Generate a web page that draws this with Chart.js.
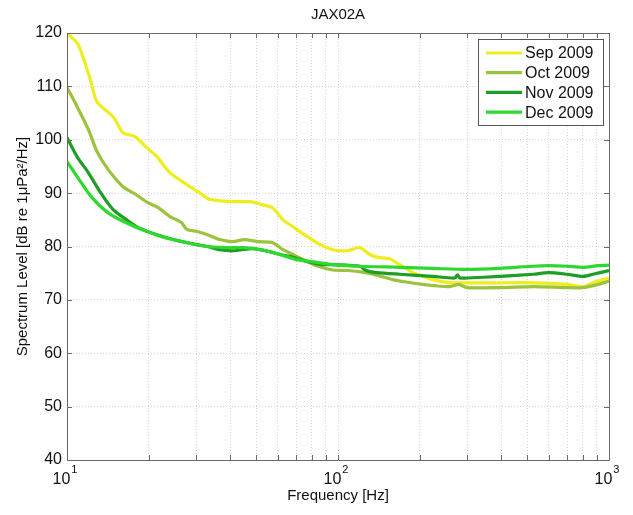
<!DOCTYPE html>
<html>
<head>
<meta charset="utf-8">
<script src="https://cdn.jsdelivr.net/npm/chart.js@4.4.1/dist/chart.umd.min.js"></script>
<style>
  html, body { margin: 0; padding: 0; background: #ffffff; }
  #wrap { width: 633px; height: 515px; position: relative; }
</style>
</head>
<body>
<div id="wrap"><canvas id="c" width="633" height="515"></canvas></div>
<script>
// ---- Data ----
const chartTitle = 'JAX02A';
const seriesLabels = ['Sep 2009', 'Oct 2009', 'Nov 2009', 'Dec 2009'];

const sepFreq  = [10, 11, 12.2, 12.9, 14.8, 16.1, 17.8, 19.7, 21.5, 24, 27.7, 31, 33.7, 41, 47.3, 52.8, 57.5, 62.7, 68.2, 76.8, 85.8, 95.8, 108, 120.5, 131, 139, 155, 169, 189, 224, 259, 299, 396, 525, 700, 802, 873, 951, 1000];
const sepLevel = [120, 117.8, 111.2, 107.1, 104.3, 101.3, 100.6, 98.5, 96.8, 93.8, 91.6, 90, 88.8, 88.4, 88.4, 87.8, 87.2, 85, 83.7, 81.9, 80.4, 79.4, 79.2, 79.8, 78.5, 78, 77.7, 76.6, 75.1, 73.8, 73.2, 73.2, 73.2, 73.2, 72.9, 72.5, 73.2, 73.8, 74.1];

const octFreq  = [10, 10.9, 12, 12.9, 14.2, 16.1, 18, 19.9, 21.7, 24, 26.4, 27.7, 30.2, 33, 36.6, 41, 45, 51, 57.5, 62.7, 68.2, 76.8, 84.4, 95.8, 109, 123, 140, 159, 181, 205, 232, 259, 279, 299, 396, 525, 700, 802, 911, 1000];
const octLevel = [109.8, 106.2, 101.9, 97.8, 94.4, 91.2, 89.7, 88.2, 87.3, 85.6, 84.5, 83.2, 82.8, 82.2, 81.3, 80.9, 81.3, 80.9, 80.7, 79.4, 78.5, 77.2, 76.3, 75.6, 75.5, 75.2, 74.6, 73.8, 73.3, 72.9, 72.6, 72.5, 72.9, 72.3, 72.3, 72.5, 72.3, 72.3, 72.9, 73.5];

const novFreq  = [10, 10.9, 12, 13.3, 14.8, 16.6, 18.4, 21.5, 24.7, 29.2, 33, 36.6, 41, 48.5, 56.2, 61.1, 68.2, 76.8, 86.8, 95.8, 120.5, 126, 131, 139, 169, 224, 270, 276, 282, 299, 396, 525, 600, 700, 802, 873, 1000];
const novLevel = [100.4, 96.8, 93.8, 90.1, 86.9, 85, 83.5, 82.2, 81.3, 80.5, 80, 79.4, 79.2, 79.6, 79, 78.5, 78, 77.2, 76.6, 76.6, 76.3, 75.6, 75.3, 75.1, 74.8, 74.4, 74.1, 74.7, 74.1, 74.1, 74.4, 74.8, 75.1, 74.8, 74.4, 74.8, 75.5];

const decFreq  = [10, 11.1, 12.3, 14.2, 16.6, 19.7, 23.2, 27.7, 32.5, 38.3, 44.6, 52.2, 61.1, 69.8, 84.4, 95.8, 120.5, 169, 224, 299, 396, 525, 600, 700, 802, 911, 1000];
const decLevel = [95.9, 92.5, 89.3, 86.3, 84.4, 82.8, 81.6, 80.7, 80, 79.8, 79.8, 79.4, 78.5, 77.6, 77, 76.6, 76.3, 76.1, 75.9, 75.7, 75.9, 76.3, 76.4, 76.3, 76.1, 76.4, 76.5];

const seriesColors = ['#eeee1e', '#9cc33e', '#1e9e24', '#2ed82e'];

const xTickValues = [10, 20, 30, 40, 50, 60, 70, 80, 90, 100, 200, 300, 400, 500, 600, 700, 800, 900, 1000];
const xTickLabels = { 10: ['10', '1'], 100: ['10', '2'], 1000: ['10', '3'] };
const yMin = 40, yMax = 120, yStep = 10;
const xLabel = 'Frequency [Hz]';
const yLabel = 'Spectrum Level [dB re 1\u03BCPa\u00B2/Hz]';

// ---- Build chart ----
const FONT = "'Liberation Sans', Arial, Helvetica, sans-serif";
function pts(fx, fy) { return fx.map((f, i) => ({ x: f, y: fy[i] })); }
const seriesData = [pts(sepFreq, sepLevel), pts(octFreq, octLevel), pts(novFreq, novLevel), pts(decFreq, decLevel)];

const datasets = seriesLabels.map((lab, i) => ({
  label: lab,
  data: seriesData[i],
  borderColor: seriesColors[i],
  backgroundColor: seriesColors[i],
  borderWidth: 3.2,
  pointRadius: 0,
  tension: 0.25,
  fill: false,
  order: 4 - i
}));

const framePlugin = {
  id: 'frame',
  afterDatasetsDraw(chart) {
    const { ctx, chartArea: a, scales } = chart;
    ctx.save();
    ctx.strokeStyle = '#6a6a6a';
    ctx.lineWidth = 1;
    ctx.beginPath();
    ctx.rect(Math.round(a.left) + 0.5, Math.round(a.top) + 0.5, Math.round(a.right - a.left), Math.round(a.bottom - a.top));
    ctx.stroke();
    ctx.beginPath();
    const tl = 5;
    xTickValues.forEach(v => {
      const px = Math.round(scales.x.getPixelForValue(v)) + 0.5;
      ctx.moveTo(px, a.bottom); ctx.lineTo(px, a.bottom - tl);
      ctx.moveTo(px, a.top); ctx.lineTo(px, a.top + tl);
    });
    for (let v = yMin; v <= yMax; v += yStep) {
      const py = Math.round(scales.y.getPixelForValue(v)) + 0.5;
      ctx.moveTo(a.left, py); ctx.lineTo(a.left + tl, py);
      ctx.moveTo(a.right, py); ctx.lineTo(a.right - tl, py);
    }
    ctx.stroke();
    ctx.restore();
  },
  afterDraw(chart) {
    const { ctx, scales } = chart;
    ctx.save();
    // x tick labels with superscript exponents
    ctx.fillStyle = '#111';
    ctx.textBaseline = 'alphabetic';
    ctx.textAlign = 'left';
    Object.keys(xTickLabels).forEach(k => {
      const [base, exp] = xTickLabels[k];
      const px = scales.x.getPixelForValue(Number(k));
      ctx.font = '16px ' + FONT;
      const wb = ctx.measureText(base).width;
      ctx.font = '11px ' + FONT;
      const we = ctx.measureText(exp).width;
      const x0 = px - 2 - (wb + 1 + we) / 2;
      ctx.font = '16px ' + FONT;
      ctx.fillText(base, x0, 484);
      ctx.font = '11px ' + FONT;
      ctx.fillText(exp, x0 + wb + 1, 473);
    });
    // title
    ctx.fillStyle = '#111';
    ctx.font = '15px ' + FONT;
    ctx.textAlign = 'center';
    ctx.textBaseline = 'middle';
    ctx.fillText(chartTitle, (chart.chartArea.left + chart.chartArea.right) / 2, 15);
    // legend
    const bx = 478.5, by = 39.5, bw = 125, bh = 86;
    ctx.fillStyle = '#ffffff';
    ctx.fillRect(bx, by, bw, bh);
    ctx.strokeStyle = '#555';
    ctx.lineWidth = 1;
    ctx.strokeRect(bx, by, bw, bh);
    ctx.font = '16px ' + FONT;
    ctx.textAlign = 'left';
    ctx.textBaseline = 'middle';
    chart.data.datasets.forEach((ds, i) => {
      const yy = 53 + i * 19.7;
      ctx.strokeStyle = ds.borderColor;
      ctx.lineWidth = 3.2;
      ctx.beginPath();
      ctx.moveTo(486, yy); ctx.lineTo(522, yy);
      ctx.stroke();
      ctx.fillStyle = '#111';
      ctx.fillText(ds.label, 525, yy + 1);
    });
    ctx.restore();
  }
};

new Chart(document.getElementById('c'), {
  type: 'line',
  data: { datasets },
  options: {
    responsive: false,
    animation: false,
    devicePixelRatio: 1,
    layout: { padding: { left: 0, right: 24, top: 33, bottom: 0 } },
    plugins: { legend: { display: false }, title: { display: false }, tooltip: { enabled: false } },
    scales: {
      x: {
        type: 'logarithmic',
        min: 10, max: 1000,
        afterBuildTicks(scale) { scale.ticks = xTickValues.map(v => ({ value: v })); },
        afterFit(scale) { scale.height = 55; },
        ticks: { display: false, autoSkip: false, maxRotation: 0 },
        grid: { color: '#d6d6d6', lineWidth: 1, drawTicks: false },
        border: { display: false, dash: [1, 2] },
        title: { display: true, text: xLabel, color: '#111', font: { family: FONT, size: 15 }, padding: { top: 0, bottom: 10 } }
      },
      y: {
        type: 'linear',
        min: yMin, max: yMax,
        afterFit(scale) { scale.width = 67; },
        ticks: { stepSize: yStep, padding: 5, color: '#111', font: { family: FONT, size: 16 } },
        grid: { color: '#d6d6d6', lineWidth: 1, drawTicks: false },
        border: { display: false, dash: [1, 2] },
        title: { display: true, text: yLabel, color: '#111', font: { family: FONT, size: 15 }, padding: { top: 14, bottom: 0 } }
      }
    }
  },
  plugins: [framePlugin]
});
</script>
</body>
</html>
